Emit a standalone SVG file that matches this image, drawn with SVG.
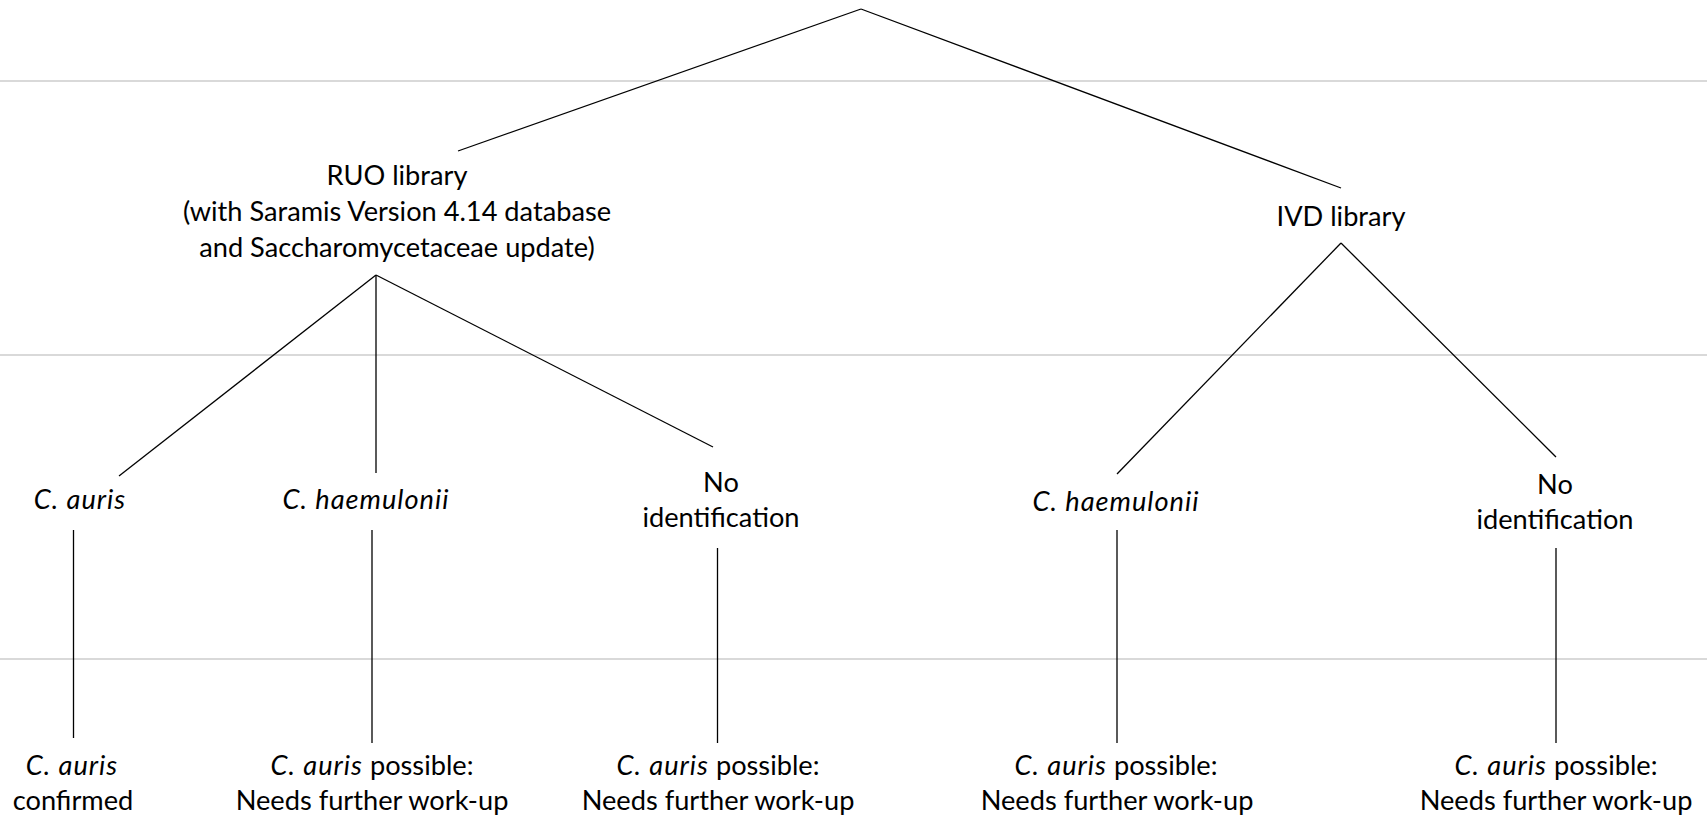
<svg xmlns="http://www.w3.org/2000/svg" width="1707" height="822" viewBox="0 0 1707 822">
<style>
.grid{stroke:#d9d9d9;stroke-width:2;fill:none}
.c{stroke:#000;stroke-width:1.3;fill:none}
text{font-family:Lato,"Open Sans","Liberation Sans",sans-serif;font-size:27.2px;fill:#000;text-anchor:middle}
.i{font-style:italic;letter-spacing:1px}
</style>
<rect width="1707" height="822" fill="#fff"/>
<g id="gridlines">
<line class="grid" x1="0" y1="81" x2="1707" y2="81"/>
<line class="grid" x1="0" y1="355" x2="1707" y2="355"/>
<line class="grid" x1="0" y1="659" x2="1707" y2="659"/>
</g>
<g id="connectors">
<line class="c" x1="861" y1="9" x2="458" y2="151"/>
<line class="c" x1="861" y1="9" x2="1341" y2="188"/>
<line class="c" x1="376" y1="275" x2="119" y2="476"/>
<line class="c" x1="376" y1="275" x2="376" y2="473"/>
<line class="c" x1="376" y1="275" x2="713" y2="447"/>
<line class="c" x1="1341" y1="243" x2="1117" y2="474"/>
<line class="c" x1="1341" y1="243" x2="1556" y2="457"/>
<line class="c" x1="73.5" y1="530" x2="73.5" y2="738"/>
<line class="c" x1="372" y1="530" x2="372" y2="743"/>
<line class="c" x1="717.5" y1="548" x2="717.5" y2="743"/>
<line class="c" x1="1117" y1="530" x2="1117" y2="743"/>
<line class="c" x1="1556" y1="548" x2="1556" y2="743"/>
</g>
<g id="ruo">
<text x="397" y="185">RUO library</text>
<text x="397" y="221">(with Saramis Version 4.14 database</text>
<text x="397" y="257">and Saccharomycetaceae update)</text>
</g>
<g id="ivd">
<text x="1341" y="226">IVD library</text>
</g>
<g id="ruo-cauris">
<text x="80" y="509" class="i">C. auris</text>
</g>
<g id="ruo-chaem">
<text x="366" y="509" class="i">C. haemulonii</text>
</g>
<g id="ruo-noid">
<text x="721" y="492">No</text>
<text x="721" y="527">identification</text>
</g>
<g id="ivd-chaem">
<text x="1116" y="511" class="i">C. haemulonii</text>
</g>
<g id="ivd-noid">
<text x="1555" y="494">No</text>
<text x="1555" y="529">identification</text>
</g>
<g id="out1">
<text x="72" y="775" class="i">C. auris</text>
<text x="73" y="810">confirmed</text>
</g>
<g id="out2">
<text x="372" y="775"><tspan class="i">C. auris</tspan> possible:</text>
<text x="372" y="810">Needs further work-up</text>
</g>
<g id="out3">
<text x="718" y="775"><tspan class="i">C. auris</tspan> possible:</text>
<text x="718" y="810">Needs further work-up</text>
</g>
<g id="out4">
<text x="1116" y="775"><tspan class="i">C. auris</tspan> possible:</text>
<text x="1117" y="810">Needs further work-up</text>
</g>
<g id="out5">
<text x="1556" y="775"><tspan class="i">C. auris</tspan> possible:</text>
<text x="1556" y="810">Needs further work-up</text>
</g>
</svg>
